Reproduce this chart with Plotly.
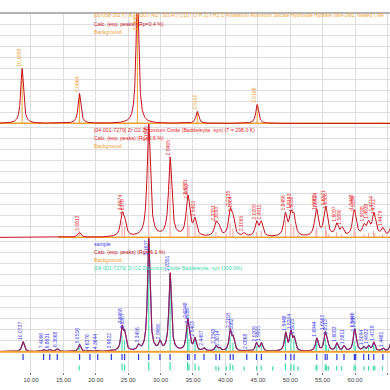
import numpy as np
import plotly.graph_objects as go
from plotly.subplots import make_subplots

# ---------------- data (2-theta in degrees, heights in panel units) ----------------
ILLITE_POS = [8.63, 17.48, 26.42, 35.66, 44.90]
ILLITE_HT = [55, 30, 135, 12, 19]
ILLITE_LBL = ["10.1858", "5.0664", "3.3643", "2.5150", "2.0168"]

ZRO_POS = [17.45, 24.05, 24.45, 28.17, 31.47, 34.15, 34.38, 35.30, 38.52, 38.97, 40.73,
           41.18, 42.90, 44.82, 45.52, 49.25, 50.10, 50.58, 53.95, 54.15, 55.40, 55.62,
           57.18, 58.00, 59.82, 60.05, 61.40, 62.08, 62.85, 63.10, 64.28, 65.62]
ZRO_HT = [5, 20, 14, 113, 79, 28, 18, 16, 12, 9, 24, 16, 3, 14, 14, 22, 20, 18, 14, 16,
          20, 13, 12, 8, 18, 12, 10, 12, 16, 10, 8, 12]
ZRO_LBL = ["5.0613", "3.6974", "3.6378", "3.1645", "2.8405", "2.6231", "2.6063", "2.5403",
           "2.3351", "2.3093", "2.2135", "2.1904", "2.1065", "2.0205", "1.9911", "1.8486",
           "1.8193", "1.8032", "1.6982", "1.6924", "1.6571", "1.6506", "1.6097", "1.5890",
           "1.5448", "1.5394", "1.5088", "1.4938", "1.4774", "1.4722", "1.4479", "1.4215"]

SAMPLE_POS = [8.78, 11.95, 12.90, 14.05, 17.50, 19.10, 20.30, 22.40, 24.05, 24.45, 26.60,
              28.17, 29.90, 31.47, 34.15, 34.40, 35.30, 36.70, 38.55, 39.10, 40.75, 41.20,
              43.30, 44.80, 45.55, 49.30, 50.10, 50.60, 54.10, 55.40, 55.70, 57.20, 58.30,
              59.90, 60.10, 61.35, 62.10, 62.90, 64.30, 65.60]
SAMPLE_HT = [10, 2, 2, 3, 7, 1, 1, 1, 22, 16, 5, 113, 8, 78, 25, 14, 12, 3, 5, 3, 20, 12,
             1, 8, 8, 18, 18, 12, 13, 16, 9, 8, 5, 17, 9, 4, 5, 9, 3, 11]
SAMPLE_LBL = ["10.0737", "7.4066", "6.8631", "6.3068", "5.0516", "4.6376", "4.3644",
              "3.9622", "3.6958", "3.6307", "3.3456", "3.1637", "2.9906", "2.8351", "2.6248",
              "2.6083", "2.5403", "2.4457", "2.3342", "2.3014", "2.2118", "2.1862", "2.0868",
              "2.0209", "1.9905", "1.8448", "1.8204", "1.8023", "1.6944", "1.6562", "1.6513",
              "1.6083", "1.5811", "1.5446", "1.5388", "1.5094", "1.4932", "1.4739", "1.4481",
              "1.4220"]

# ZrO2 reference pattern (percent intensity)
REF_POS = [17.44, 24.05, 24.45, 28.18, 31.47, 34.16, 34.38, 35.31, 35.90, 38.54, 38.97,
           40.13, 40.73, 41.16, 42.90, 44.83, 45.52, 47.30, 49.27, 50.12, 50.56, 51.20,
           53.99, 54.11, 55.42, 55.62, 55.90, 57.17, 57.94, 59.85, 60.06, 61.39, 62.09,
           62.84, 63.07, 64.24, 65.63]
REF_INT = [6, 14, 10, 100, 68, 21, 11, 13, 3, 5, 2, 3, 13, 8, 2, 5, 6, 2, 15, 12, 10, 3,
           7, 9, 11, 6, 3, 5, 3, 9, 5, 3, 4, 6, 4, 3, 5]

TICK_VALS = [10, 15, 20, 25, 30, 35, 40, 45, 50, 55, 60, 65]
TICK_TEXT = ["10.00", "15.00", "20.00", "25.00", "30.00", "35.00", "40.00", "45.00",
             "50.00", "55.00", "60.00", "65.00"]

# ---------------- styling ----------------
ORANGE = "#f4a033"
CALC = "#c4121e"
ZRED = "#e8262a"
STICKRED = "#f3a3a3"
BLUE = "#2f3ad0"
BLUE_TXT = "#3a3cf0"
GREEN = "#3edcaa"
GRID = "#dedede"
FONT = "Liberation Sans"

X_RANGE = [5.22, 65.4]
W, H = 390, 390
T, B = 13, 18
PH = H - T - B


def py(px):
    return (H - B - px) / PH


x = np.linspace(4.5, 66.5, 3600)


def profile(pos, ht, w):
    y = np.zeros_like(x)
    for p, h in zip(pos, ht):
        y += h / (1 + ((x - p) / (w / 2)) ** 2)
    return y


rows_px = [111, 114, 115, 19]
fig = make_subplots(rows=4, cols=1, shared_xaxes=True, vertical_spacing=0,
                    row_heights=[r / sum(rows_px) for r in rows_px])
tops = [110.5, 113.5, 113.7, 19]
bots = [-0.5, -0.5, -1.3, 0]


def sticks(pos, h0, h1, row, color, width=1):
    xs, ys = [], []
    for p, a, b in zip(pos, h0, h1):
        xs += [p, p, None]
        ys += [a, b, None]
    fig.add_trace(go.Scatter(x=xs, y=ys, mode="lines", line=dict(color=color, width=width),
                             hoverinfo="skip", showlegend=False), row=row, col=1)


def labels(pos, lbl, prof, row, color):
    top = tops[row - 1]
    for p, l in zip(pos, lbl):
        ypk = float(np.interp(p, x, prof))
        est = len(l) * 2.8 + 2
        if ypk + est > top:
            yv, ya = top - 0.3, "top"
        else:
            yv, ya = ypk + 0.3, "bottom"
        sfx = "" if row == 1 else str(row)
        fig.add_annotation(x=p, y=yv, xref="x" + sfx, yref="y" + sfx, text=l,
                           textangle=-90, xanchor="right", yanchor=ya, xshift=1.5,
                           showarrow=False, borderpad=0,
                           font=dict(size=5, color=color, family=FONT))


# ---- panel 1: Illite ----
p1 = profile(ILLITE_POS, ILLITE_HT, 0.5)
sticks(ILLITE_POS, [0] * len(ILLITE_POS), [float(np.interp(p, x, p1)) for p in ILLITE_POS], 1, ORANGE)
fig.add_trace(go.Scatter(x=x, y=np.zeros_like(x), mode="lines", line=dict(color=ORANGE, width=2),
                         hoverinfo="skip", showlegend=False), row=1, col=1)
fig.add_trace(go.Scatter(x=x, y=p1, mode="lines", line=dict(color=CALC, width=1),
                         hoverinfo="skip", showlegend=False), row=1, col=1)
labels(ILLITE_POS, ILLITE_LBL, p1, 1, ORANGE)

# ---- panel 2: ZrO2 ----
p2 = profile(ZRO_POS, ZRO_HT, 0.58)
sticks(REF_POS, [0] * len(REF_POS), [i * 1.13 for i in REF_INT], 2, STICKRED)
xb = x[x >= 14.2]
fig.add_trace(go.Scatter(x=xb, y=np.zeros_like(xb), mode="lines", line=dict(color=ORANGE, width=2),
                         hoverinfo="skip", showlegend=False), row=2, col=1)
fig.add_trace(go.Scatter(x=x, y=p2, mode="lines", line=dict(color=CALC, width=1),
                         hoverinfo="skip", showlegend=False), row=2, col=1)
labels(ZRO_POS, ZRO_LBL, p2, 2, ZRED)

# ---- panel 3: sample ----
p3 = profile(SAMPLE_POS, SAMPLE_HT, 0.45)
sticks(REF_POS, [0] * len(REF_POS), [i * 1.13 for i in REF_INT], 3, GREEN)
fig.add_trace(go.Scatter(x=x, y=p3, mode="lines", line=dict(color=BLUE, width=1.2),
                         hoverinfo="skip", showlegend=False), row=3, col=1)
fig.add_trace(go.Scatter(x=x, y=p3, mode="lines", line=dict(color=CALC, width=0.8),
                         hoverinfo="skip", showlegend=False), row=3, col=1)
fig.add_trace(go.Scatter(x=x, y=np.zeros_like(x), mode="lines", line=dict(color=ORANGE, width=2),
                         hoverinfo="skip", showlegend=False), row=3, col=1)
labels(SAMPLE_POS, SAMPLE_LBL, p3, 3, BLUE_TXT)

# ---- stick strip ----
sticks(SAMPLE_POS, [12] * len(SAMPLE_POS), [18] * len(SAMPLE_POS), 4, BLUE, 1.2)
sticks(REF_POS, [1.5] * len(REF_POS), [min(10, 5 + i / 4) for i in REF_INT], 4, GREEN, 1.2)

# ---- axes ----
for r in range(1, 5):
    fig.update_xaxes(range=X_RANGE, showgrid=True, gridcolor=GRID, gridwidth=1,
                     tickvals=TICK_VALS, ticktext=TICK_TEXT, zeroline=False,
                     showline=False, showticklabels=(r == 4), row=r, col=1)
    fig.update_yaxes(range=[bots[r - 1], tops[r - 1]], showgrid=(r < 4), gridcolor=GRID,
                     tick0=0, dtick=11, showticklabels=False, zeroline=False,
                     showline=False, ticks="", row=r, col=1)
fig.update_xaxes(ticks="outside", ticklen=2, tickcolor="#777", tickwidth=1,
                 tickfont=dict(size=6, color="#444", family=FONT), row=4, col=1)

# ---- legend texts ----
LEG = [
    (15.5, "[00-058-2017] ( K ) H3O ) Al2 ( Si3 Al ) O10 ( O H )2 x H2 O Potassium Aluminum Silicate Hydroxide Hydrate (Illite-2M2, heated ( NR", ORANGE, 4.95),
    (24.0, "Calc. (exp. peaks) (Rp=0.4 %)", CALC, 5.2),
    (32.0, "Background", ORANGE, 5.2),
    (130.0, "[04-001-7279] Zr O2 Zirconium Oxide (Baddeleyite, syn) (T = 298.0 K)", ZRED, 5.2),
    (138.0, "Calc. (exp. peaks) (Rp=2.6 %)", ZRED, 5.2),
    (146.0, "Background", ORANGE, 5.2),
    (243.5, "sample", BLUE_TXT, 5.2),
    (252.0, "Calc. (exp. peaks) (Rp= 6.1 %)", CALC, 5.2),
    (260.0, "Background", ORANGE, 5.2),
    (268.0, "[04-001-7279] Zr O2 Zirconium Oxide Baddeleyite, syn (100.0%)", GREEN, 5.2),
]
for ypx, txt, col, fs in LEG:
    fig.add_annotation(x=93 / W, y=py(ypx), xref="paper", yref="paper", text=txt,
                       xanchor="left", yanchor="middle", showarrow=False, borderpad=0,
                       font=dict(size=fs, color=col, family=FONT))

fig.add_shape(type="line", xref="paper", yref="paper", x0=0, x1=1, y0=1, y1=1,
              line=dict(color="#9a9a9a", width=1.5))

fig.update_layout(width=W, height=H, margin=dict(l=0, r=0, t=T, b=B),
                  paper_bgcolor="white", plot_bgcolor="white", showlegend=False)
fig.write_html("out.html", config={"displayModeBar": False},
               post_script="document.body.style.margin='0';document.body.style.overflow='hidden';")
